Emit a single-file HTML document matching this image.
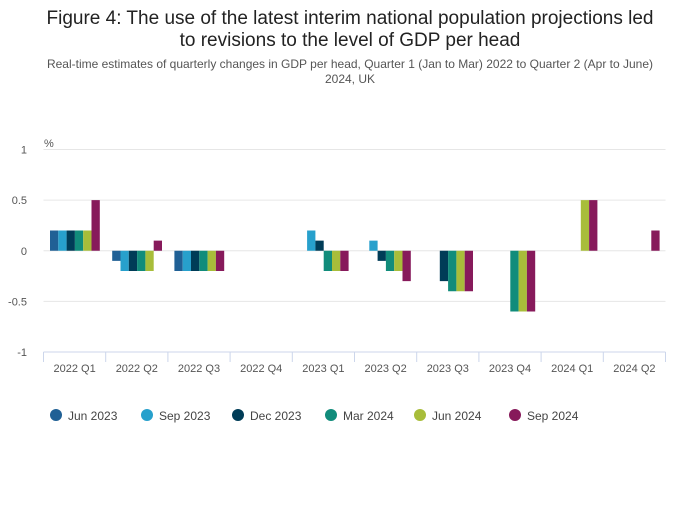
<!DOCTYPE html>
<html><head><meta charset="utf-8"><style>
body{margin:0;background:#fff;font-family:"Liberation Sans","DejaVu Sans",sans-serif}
svg text{font-family:"Liberation Sans","DejaVu Sans",sans-serif}
</style></head><body>
<svg id="chart" width="700" height="502" viewBox="0 0 700 502">
<text x="350" y="24" text-anchor="middle" font-size="19" fill="#222">Figure 4: The use of the latest interim national population projections led</text>
<text x="350" y="46" text-anchor="middle" font-size="19" fill="#222">to revisions to the level of GDP per head</text>
<text x="350" y="68" text-anchor="middle" font-size="12" fill="#555">Real-time estimates of quarterly changes in GDP per head, Quarter 1 (Jan to Mar) 2022 to Quarter 2 (Apr to June)</text>
<text x="350" y="83" text-anchor="middle" font-size="12" fill="#555">2024, UK</text>
<text x="44" y="147" font-size="11" fill="#555">%</text>
<g id="grid"></g><g id="bars"></g><g id="xaxis"></g><g id="legend"></g>
</svg>
<script>
const categories=["2022 Q1","2022 Q2","2022 Q3","2022 Q4","2023 Q1","2023 Q2","2023 Q3","2023 Q4","2024 Q1","2024 Q2"];
const seriesNames=["Jun 2023","Sep 2023","Dec 2023","Mar 2024","Jun 2024","Sep 2024"];
const jun2023=[0.2,-0.1,-0.2,null,null,null,null,null,null,null];
const sep2023=[0.2,-0.2,-0.2,null,0.2,0.1,null,null,null,null];
const dec2023=[0.2,-0.2,-0.2,null,0.1,-0.1,-0.3,null,null,null];
const mar2024=[0.2,-0.2,-0.2,null,-0.2,-0.2,-0.4,-0.6,null,null];
const jun2024=[0.2,-0.2,-0.2,null,-0.2,-0.2,-0.4,-0.6,0.5,null];
const sep2024=[0.5,0.1,-0.2,null,-0.2,-0.3,-0.4,-0.6,0.5,0.2];
const yTicks=[1,0.5,0,-0.5,-1];
const yTickLabels=["1","0.5","0","-0.5","-1"];
const seriesValues=[jun2023,sep2023,dec2023,mar2024,jun2024,sep2024];
const colors=["#206095","#27a0cc","#003c57","#118c7b","#a8bd3a","#871a5b"];
const NS="http://www.w3.org/2000/svg";
const L=43.5,R=665.5,T=149.5,B=352;
const y=v=>T+(1-v)/2*(B-T);
const bandW=(R-L)/categories.length;
const x=i=>L+i*bandW;
const barW=8.3,off=6.5;
function mk(tag,attrs,parent){const e=document.createElementNS(NS,tag);for(const k in attrs)e.setAttribute(k,attrs[k]);parent.appendChild(e);return e;}
const grid=document.getElementById('grid');
yTicks.forEach((t,i)=>{
  if(t!==-1){const g=mk('line',{x1:L,x2:R,y1:y(t),y2:y(t),stroke:'#e6e6e6','stroke-width':1},grid);
  
  }
  const tx=mk('text',{x:27,y:y(t)+4,'text-anchor':'end','font-size':11,fill:'#555'},grid);
  tx.textContent=yTickLabels[i];
  
  
});
const bars=document.getElementById('bars');
seriesValues.forEach((vals,s)=>{vals.forEach((v,i)=>{
  if(v===null)return;
  const r=mk('rect',{x:x(i)+off+s*barW,y:Math.min(y(v),y(0)),width:barW,height:Math.abs(y(v)-y(0)),fill:colors[s]},bars);
  
  
});});
const xa=document.getElementById('xaxis');
const ax=mk('line',{x1:L,x2:R,y1:B,y2:B,stroke:'#ccd6eb'},xa);


for(let i=0;i<=categories.length;i++){
  const tk=mk('line',{x1:x(i),x2:x(i),y1:B,y2:B+10,stroke:'#ccd6eb'},xa);
  
  
}
categories.forEach((c,i)=>{
  const t=mk('text',{x:x(i)+bandW/2,y:372,'text-anchor':'middle','font-size':11,fill:'#555'},xa);
  t.textContent=c;
  
  
});
const lg=document.getElementById('legend');
const lx=[56,147,238,331,420,515];
seriesNames.forEach((n,s)=>{
  const g=mk('g',{},lg);
  
  
  mk('circle',{cx:lx[s],cy:415,r:6,fill:colors[s]},g);
  const t=mk('text',{x:lx[s]+12,y:420,'font-size':12,fill:'#444'},g);
  t.textContent=n;
});
</script>
</body></html>
